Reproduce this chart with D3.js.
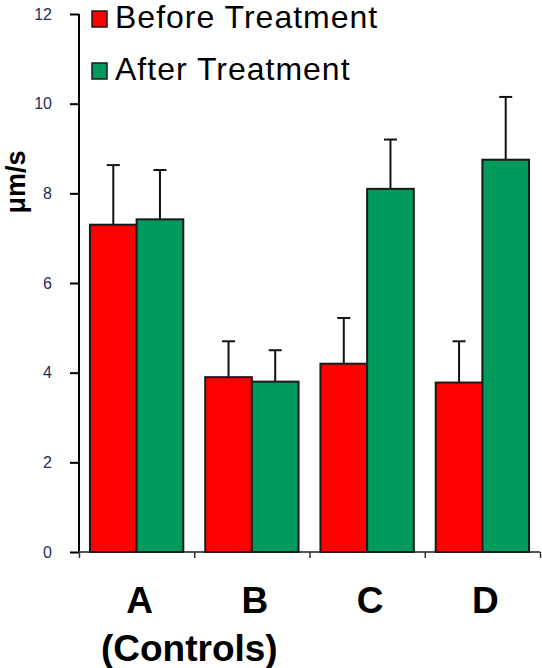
<!DOCTYPE html>
<html><head><meta charset="utf-8">
<script src="https://cdn.jsdelivr.net/npm/d3@7"></script>
<style>body{margin:0;background:#fff}svg{display:block;font-family:"Liberation Sans",Arial,sans-serif}</style>
</head><body>
<svg id="c" width="542" height="668"></svg>
<script>
const categories = ["A", "B", "C", "D"];
const subLabels = ["(Controls)", "", "", ""];
const seriesNames = ["Before Treatment", "After Treatment"];
const beforeValues = [7.3, 3.9, 4.2, 3.78];
const afterValues = [7.42, 3.8, 8.1, 8.75];
const beforeErrors = [1.33, 0.8, 1.02, 0.92];
const afterErrors = [1.1, 0.7, 1.1, 1.4];
const yTicks = [0, 2, 4, 6, 8, 10, 12];
const colors = ["#ff0000", "#009a5c"];

const svg = d3.select("#c");
const x0 = 79, x1 = 540, yTop = 14, yBot = 552;
const y = d3.scaleLinear().domain([0, 12]).range([yBot, yTop]);
const x = d3.scaleBand().domain(categories).range([x0, x1]).paddingInner(0.19).paddingOuter(0.095);
const xs = d3.scaleBand().domain([0, 1]).range([0, x.bandwidth()]);

// y axis
const ya = svg.append("g").attr("transform", `translate(${x0},0)`)
  .call(d3.axisLeft(y).tickValues(yTicks).tickSize(9).tickPadding(18).tickSizeOuter(0));
ya.select(".domain").attr("stroke", "#000").attr("stroke-width", 2).attr("d", `M0,${yTop}V${yBot}`);
ya.selectAll(".tick line").attr("stroke", "#000").attr("stroke-width", 2);
ya.selectAll(".tick text").attr("fill", "#1f2d5c").style("font-size", "16px");

// x axis baseline with boundary ticks
const xb = d3.scaleLinear().domain([0, categories.length]).range([x0, x1]);
const xa = svg.append("g").attr("transform", `translate(0,${yBot})`)
  .call(d3.axisBottom(xb).tickValues(d3.range(categories.length + 1)).tickSize(6).tickFormat(""));
xa.select(".domain").attr("stroke", "#555").attr("stroke-width", 2).attr("d", `M${x0},0H${x1}`);
xa.selectAll(".tick line").attr("stroke", "#333").attr("stroke-width", 1.5);

const data = categories.map((c, i) => ({c, vals: [beforeValues[i], afterValues[i]], errs: [beforeErrors[i], afterErrors[i]]}));
const g = svg.append("g");
data.forEach(d => {
  [0, 1].forEach(s => {
    const bx = x(d.c) + xs(s), bw = xs.bandwidth();
    const cx = bx + bw / 2;
    const top = d.vals[s] + d.errs[s];
    g.append("line").attr("x1", cx).attr("x2", cx).attr("y1", y(d.vals[s])).attr("y2", y(top))
      .attr("stroke", "#111").attr("stroke-width", 2);
    g.append("line").attr("x1", cx - 6.5).attr("x2", cx + 6.5).attr("y1", y(top)).attr("y2", y(top))
      .attr("stroke", "#111").attr("stroke-width", 2);
  });
});
data.forEach(d => {
  [0, 1].forEach(s => {
    g.append("rect").attr("x", x(d.c) + xs(s)).attr("width", xs.bandwidth())
      .attr("y", y(d.vals[s])).attr("height", y(0) - y(d.vals[s]))
      .attr("fill", colors[s]).attr("stroke", "#1a1a1a").attr("stroke-width", 2);
  });
});

// category labels
svg.append("g").selectAll("text").data(categories).join("text")
  .attr("x", d => x(d) + x.bandwidth() / 2 + 3).attr("y", 613)
  .attr("text-anchor", "middle").attr("font-weight", "bold").style("font-size", "37px")
  .attr("fill", "#000").text(d => d);
svg.append("g").selectAll("text").data(subLabels.map((t, i) => ({t, c: categories[i]})).filter(d => d.t)).join("text")
  .attr("x", d => x(d.c) + 11).attr("y", 661)
  .attr("text-anchor", "start").attr("font-weight", "bold").style("font-size", "37px")
  .attr("fill", "#000").text(d => d.t);

// y label
svg.append("text").attr("transform", "translate(25,182) rotate(-90)")
  .attr("text-anchor", "middle").attr("font-weight", "bold").style("font-size", "27px")
  .attr("fill", "#000").text("μm/s");

// legend
const lg = svg.append("g");
seriesNames.forEach((n, i) => {
  const yy = [28, 80][i];
  lg.append("rect").attr("x", 92).attr("y", yy - 17).attr("width", 15).attr("height", 16)
    .attr("fill", colors[i]).attr("stroke", "#1a1a1a").attr("stroke-width", 1.5);
  lg.append("text").attr("x", 115).attr("y", yy).style("font-size", "32px")
    .style("letter-spacing", "1px").attr("fill", "#000").text(n);
});
</script>
</body></html>
